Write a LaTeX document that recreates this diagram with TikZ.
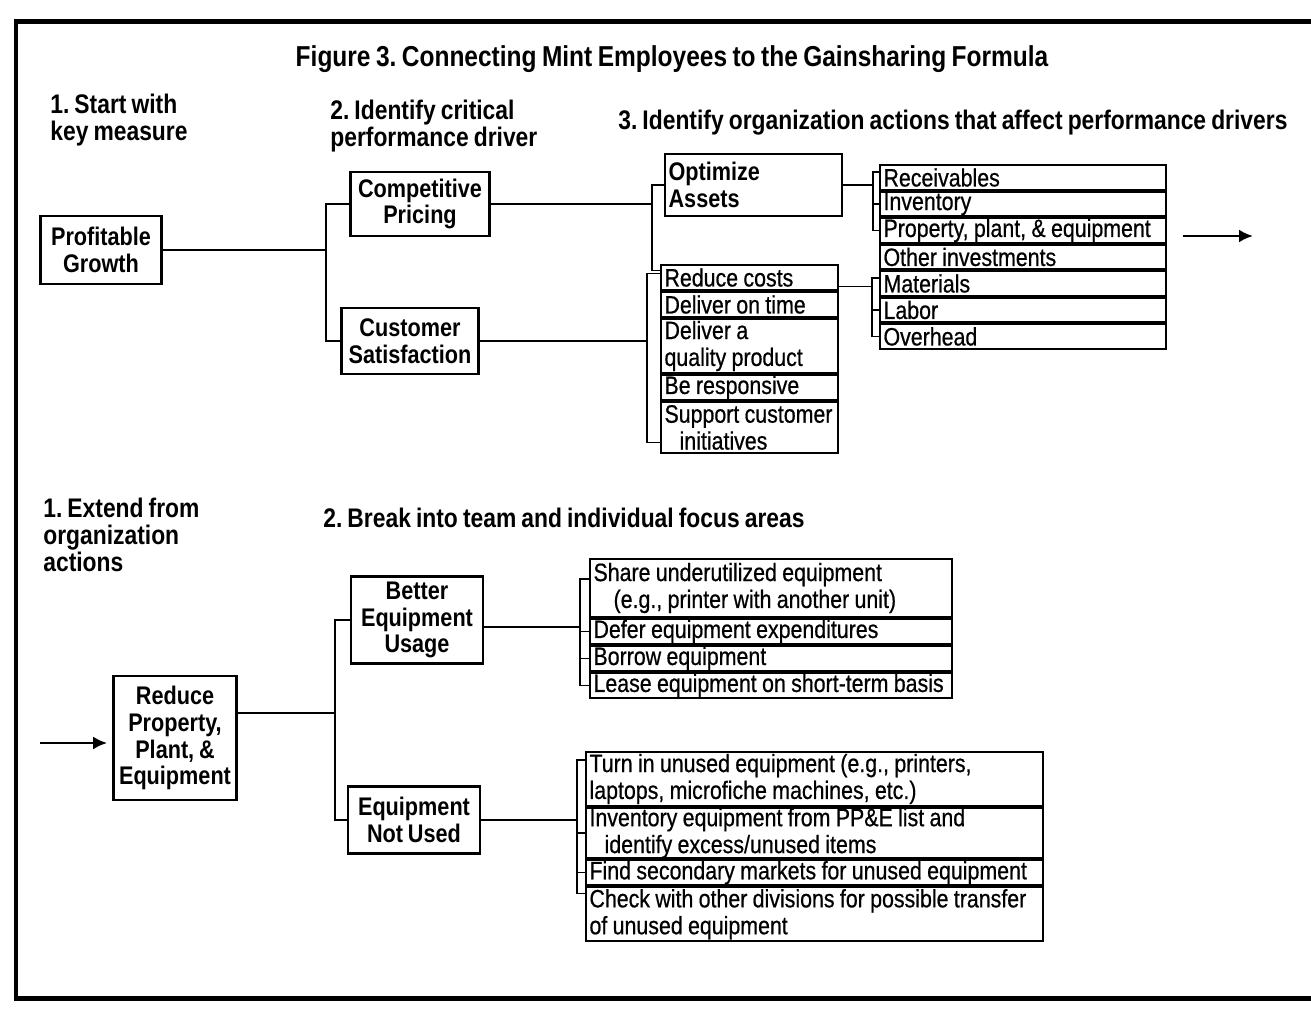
\documentclass[tikz,border=0pt]{standalone}
\usepackage{fontspec}
\setmainfont{Liberation Sans}[FakeStretch=0.85, WordSpace=0.8]
\newfontfamily\itemfont{Liberation Sans}[FakeStretch=0.85, WordSpace=0.9, FakeBold=0.6]
\frenchspacing
\hyphenpenalty=10000
\usetikzlibrary{positioning,arrows,arrows.meta}

\tikzstyle{driver}     = [rectangle, draw, very thick, align=center, inner sep=2pt, font=\fontsize{14.5}{15.3}\selectfont\bfseries]
\tikzstyle{header}     = [anchor=north west, align=left, inner sep=0pt, font=\fontsize{15.3}{15.3}\selectfont\bfseries]
\tikzstyle{action}     = [rectangle, draw, very thick, align=flush left, inner xsep=2pt, inner ysep=0pt, outer sep=0pt, minimum height=0.5cm, font=\itemfont\fontsize{14.3}{15.3}\selectfont]
\tikzstyle{orgaction}  = [action, text width=3.4cm]
\tikzstyle{assetitem}  = [action, text width=5.58cm]
\tikzstyle{usageitem}  = [action, text width=7.1cm]
\tikzstyle{unuseditem} = [action, text width=9cm]
\tikzstyle{flow}       = [draw, thick]
\tikzstyle{pointer}    = [draw, line width=1.5pt, -{Latex[length=0.28cm, width=0.26cm]}]

\begin{document}
\begin{tikzpicture}[x=0.02cm, y=-0.02cm, node distance=0.4mm]
\useasboundingbox (0,0) rectangle (1311,1020);
\draw[line width=0.1cm] (1330,22) -- (16,22) -- (16,998) -- (1330,998);

% headings
\node[font=\fontsize{16.4}{18}\selectfont\bfseries, anchor=base] (title) at (672,67) {Figure 3. Connecting Mint Employees to the Gainsharing Formula};
\node[header] (start) at (50,94) {1. Start with\\key measure};
\node[header] (identify) at (330,100) {2. Identify critical\\performance driver};
\node[header] (orgact) at (618,110) {3. Identify organization actions that affect performance drivers};

% key measure and drivers
\node[driver, minimum width=2.42cm, minimum height=1.36cm] (growth) at (101,250) {Profitable\\Growth};
\node[driver, minimum width=2.78cm, minimum height=1.28cm] (pricing) at (420,204) {Competitive\\Pricing};
\node[driver, minimum width=2.74cm, minimum height=1.32cm] (satisfaction) at (410,341) {Customer\\Satisfaction};

% organization actions
\node[driver, anchor=north west, align=left, text width=3.4cm, minimum height=1.24cm] (assets) at (664,153) {Optimize\\Assets};
\node[orgaction, anchor=north west] (costs) at (661,265) {Reduce costs};
\node[orgaction, below=of costs] (ontime) {Deliver on time};
\node[orgaction, below=of ontime, minimum height=1.08cm] (quality) {Deliver a\\quality product};
\node[orgaction, below=of quality] (responsive) {Be responsive};
\node[orgaction, below=of responsive, minimum height=1.02cm] (support) {Support customer\\\hspace*{0.6em}initiatives};

\node[assetitem, anchor=north west] (receivables) at (880,165) {Receivables};
\node[assetitem, below=0.3mm of receivables] (inventory) {Inventory};
\node[assetitem, below=0.3mm of inventory] (plant) {Property, plant, \& equipment};
\node[assetitem, below=0.3mm of plant] (investments) {Other investments};
\node[assetitem, below=0.3mm of investments] (materials) {Materials};
\node[assetitem, below=0.3mm of materials] (labor) {Labor};
\node[assetitem, below=0.3mm of labor] (overhead) {Overhead};

% lower half
\node[header] (extend) at (43,498) {1. Extend from\\organization\\actions};
\node[header] (breakup) at (323,508) {2. Break into team and individual focus areas};

\node[driver, minimum width=2.46cm, minimum height=2.48cm] (reduce) at (175,738) {Reduce\\Property,\\Plant, \&\\Equipment};
\node[driver, minimum width=2.64cm, minimum height=1.74cm] (usage) at (417,620) {Better\\Equipment\\Usage};
\node[driver, minimum width=2.64cm, minimum height=1.34cm] (notused) at (414,820) {Equipment\\Not Used};

\node[usageitem, anchor=north west, minimum height=1.16cm] (share) at (590,559) {Share underutilized equipment\\\hspace*{0.8em}(e.g., printer with another unit)};
\node[usageitem, below=of share] (defer) {Defer equipment expenditures};
\node[usageitem, below=of defer] (borrow) {Borrow equipment};
\node[usageitem, below=of borrow] (lease) {Lease equipment on short-term basis};

\node[unuseditem, anchor=north west, minimum height=1.08cm] (turnin) at (586,752) {Turn in unused equipment (e.g., printers,\\laptops, microfiche machines, etc.)};
\node[unuseditem, below=of turnin, minimum height=1.0cm] (listcheck) {Inventory equipment from PP\&E list and\\\hspace*{0.6em}identify excess/unused items};
\node[unuseditem, below=of listcheck] (markets) {Find secondary markets for unused equipment};
\node[unuseditem, below=of markets, minimum height=1.08cm] (transfer) {Check with other divisions for possible transfer\\of unused equipment};

% forks
\coordinate (fork1) at (326,0);
\coordinate (fork2) at (652,0);
\coordinate (fork3) at (647,0);
\coordinate (fork4) at (873,0);
\coordinate (fork5) at (872,0);
\coordinate (fork6) at (335,0);
\coordinate (fork7) at (580,0);
\coordinate (fork8) at (577,0);

\coordinate (costsA) at ([yshift=-3pt]costs.north west);
\coordinate (costsB) at ([yshift=-5pt]costs.north west);
\coordinate (costsC) at ([yshift=2pt]costs.south east);
\coordinate (supportA) at ([yshift=6pt]support.south west);
\coordinate (recvA) at ([yshift=-4pt]receivables.north west);
\coordinate (matA) at ([yshift=-4pt]materials.north west);
\coordinate (reduceA) at ([yshift=0.5cm]reduce.east);
\coordinate (usageA) at ([yshift=-4pt]usage.east);
\coordinate (shareA) at ([yshift=-0.4cm]share.north west);
\coordinate (turninA) at ([yshift=-0.16cm]turnin.north west);
\coordinate (transferA) at ([yshift=-0.12cm]transfer.north west);

\path[flow] (growth.east) -- (growth.east -| fork1);
\path[flow] (pricing.west) -| (fork1 |- satisfaction.west) -- (satisfaction.west);

\path[flow] (pricing.east) -- (pricing.east -| fork2);
\path[flow] (assets.west) -| (fork2 |- costsA) -- (costsA);
\path[flow] (satisfaction.east) -- (satisfaction.east -| fork3);
\path[flow] (costsB) -| (fork3 |- supportA) -- (supportA);

\path[flow] (assets.east) -- (assets.east -| fork4);
\path[flow] (recvA) -| (fork4 |- plant.west) -- (plant.west);
\path[flow] (inventory.west) -- (inventory.west -| fork4);
\path[flow] (costsC) -- (costsC -| fork5);
\path[flow] (matA) -| (fork5 |- overhead.west) -- (overhead.west);
\path[flow] (labor.west) -- (labor.west -| fork5);

\path[flow] (reduceA) -- (reduceA -| fork6);
\path[flow] (usage.west) -| (fork6 |- notused.west) -- (notused.west);
\path[flow] (usageA) -- (usageA -| fork7);
\path[flow] (shareA) -| (fork7 |- lease.west) -- (lease.west);
\path[flow] (defer.west) -- (defer.west -| fork7);
\path[flow] (borrow.west) -- (borrow.west -| fork7);
\path[flow] (notused.east) -- (notused.east -| fork8);
\path[flow] (turninA) -| (fork8 |- transferA) -- (transferA);
\path[flow] (listcheck.west) -- (listcheck.west -| fork8);
\path[flow] (markets.west) -- (markets.west -| fork8);

% arrows
\coordinate (onward) at (1183,236);
\coordinate (onwardEnd) at (1253,236);
\path[pointer] (onward) -- (onwardEnd);
\coordinate (feed) at (40,743);
\path[pointer, shorten >=3pt] (feed) -- (feed -| reduce.west);
\end{tikzpicture}
\end{document}
